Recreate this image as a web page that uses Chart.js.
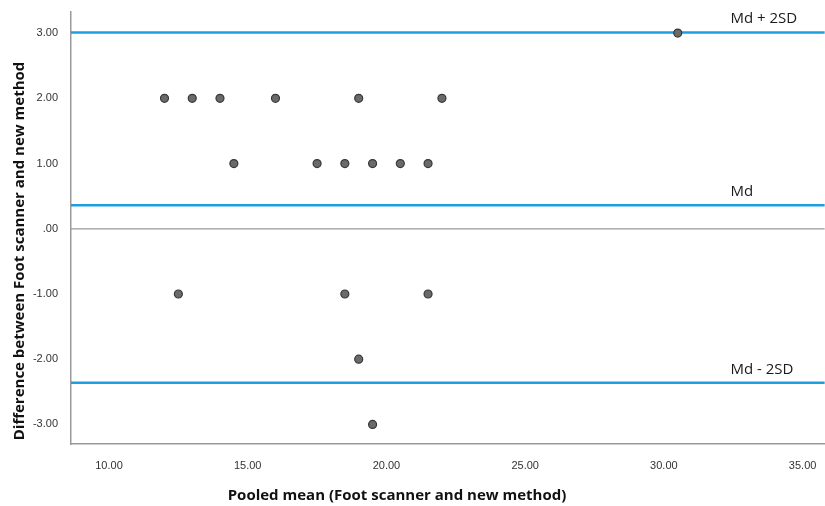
<!DOCTYPE html>
<html>
<head>
<meta charset="utf-8">
<script src="https://cdn.jsdelivr.net/npm/chart.js@4.4.0/dist/chart.umd.min.js"></script>
<style>
  html, body { margin: 0; padding: 0; background: #fff; overflow: hidden; }
  #wrap { width: 830px; height: 506px; }
</style>
</head>
<body>
<div id="wrap"><canvas id="bland"></canvas></div>
<script>
// pooled mean (x) and difference (y)
var meanVals = [12, 13, 14, 16, 19, 22, 14.5, 17.5, 18.5, 19.5, 20.5, 21.5, 12.5, 18.5, 21.5, 19, 19.5, 30.5];
var diffVals = [2, 2, 2, 2, 2, 2, 1, 1, 1, 1, 1, 1, -1, -1, -1, -2, -3, 3];

// reference lines
var lineNames = ['Md + 2SD', 'Md', 'Md - 2SD'];
var lineVals = [3.01, 0.36, -2.36];

var xRange = [8.63, 35.8];
var yRange = [-3.3, 3.33];
var xTicks = [10, 15, 20, 25, 30, 35];
var yTicks = [-3, -2, -1, 0, 1, 2, 3];

var xTitle = 'Pooled mean (Foot scanner and new method)';
var yTitle = 'Difference between Foot scanner and new method';

var points = meanVals.map(function(v, i){ return {x: v, y: diffVals[i]}; });

var datasets = [];
// zero line
datasets.push({
  type: 'line',
  data: [{x: xRange[0], y: 0}, {x: xRange[1], y: 0}],
  borderColor: '#9a9a9a', borderWidth: 1.2, pointRadius: 0, order: 3
});
lineVals.forEach(function(v){
  datasets.push({
    type: 'line',
    data: [{x: xRange[0], y: v}, {x: xRange[1], y: v}],
    borderColor: '#1ea0e0', borderWidth: 2.5, pointRadius: 0, order: 2
  });
});
datasets.push({
  type: 'scatter',
  data: points,
  backgroundColor: '#6a6a6a',
  borderColor: '#383838',
  borderWidth: 1.2,
  pointRadius: 4,
  order: 1
});

var labelPlugin = {
  id: 'refLabels',
  afterDatasetsDraw: function(chart){
    var c = chart.ctx, xs = chart.scales.x, ys = chart.scales.y;
    c.save();
    c.font = '15px "Open Sans"';
    c.fillStyle = '#1a1a1a';
    c.textAlign = 'left';
    c.textBaseline = 'alphabetic';
    lineNames.forEach(function(n, i){
      c.fillText(n, xs.getPixelForValue(32.4), ys.getPixelForValue(lineVals[i]) - 9);
    });
    c.font = 'bold 15px "Open Sans"';
    c.fillStyle = '#111';
    c.textAlign = 'center';
    c.textBaseline = 'middle';
    c.fillText(xTitle, 397, 496);
    c.translate(20, 251);
    c.rotate(-Math.PI / 2);
    c.fillText(yTitle, 0, 0);
    c.restore();
  }
};

new Chart(document.getElementById('bland'), {
  type: 'scatter',
  data: { datasets: datasets },
  options: {
    responsive: true,
    maintainAspectRatio: false,
    animation: false,
    layout: { padding: { top: 10, right: 0, bottom: 0, left: 0 } },
    plugins: { legend: { display: false }, tooltip: { enabled: false } },
    scales: {
      x: {
        type: 'linear',
        min: xRange[0], max: xRange[1],
        grid: { display: false },
        border: { color: '#9a9a9a', width: 1.5 },
        afterFit: function(s){ s.height = 62; },
        afterBuildTicks: function(s){ s.ticks = xTicks.map(function(v){ return {value: v}; }); },
        ticks: {
          padding: 7,
          color: '#333',
          font: { family: '"Liberation Sans"', size: 11 },
          callback: function(v){ return v.toFixed(2); }
        }
      },
      y: {
        min: yRange[0], max: yRange[1],
        grid: { display: false },
        border: { color: '#9a9a9a', width: 1.5 },
        afterFit: function(s){ s.width = 71; },
        afterBuildTicks: function(s){ s.ticks = yTicks.map(function(v){ return {value: v}; }); },
        ticks: {
          padding: 5,
          color: '#333',
          font: { family: '"Liberation Sans"', size: 11 },
          callback: function(v){ return v === 0 ? '.00' : v.toFixed(2); }
        }
      }
    }
  },
  plugins: [labelPlugin]
});
</script>
</body>
</html>
